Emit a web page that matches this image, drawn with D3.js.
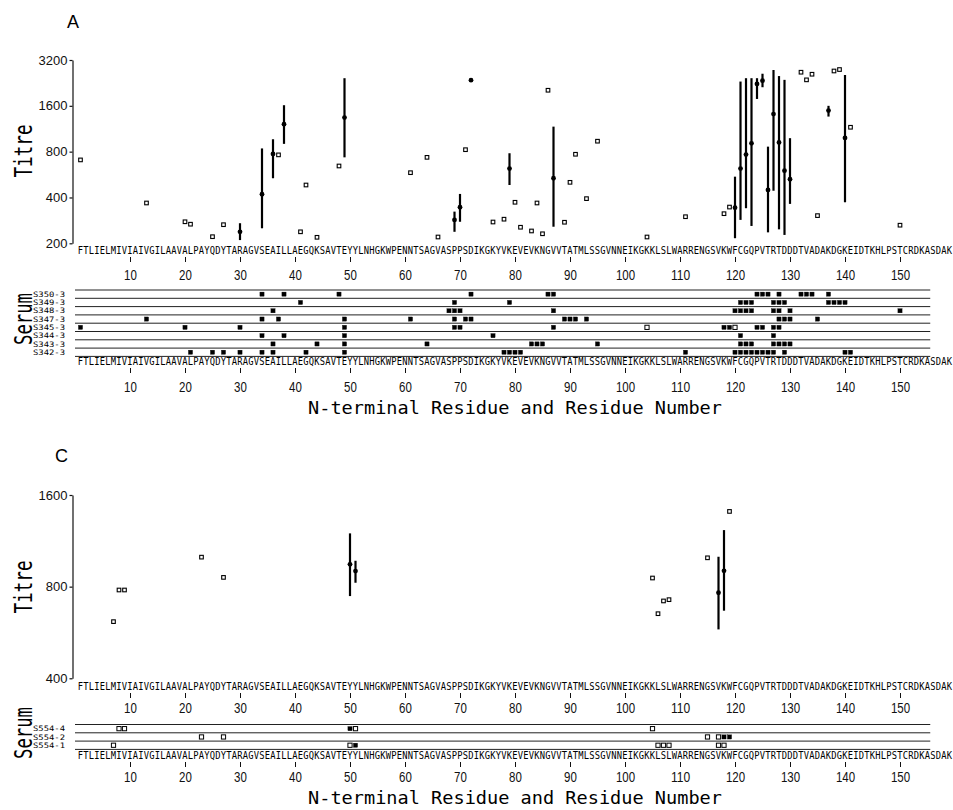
<!DOCTYPE html>
<html>
<head>
<meta charset="utf-8">
<title>Titre by N-terminal residue</title>
<script src="https://cdnjs.cloudflare.com/ajax/libs/d3/7.8.5/d3.min.js"></script>
<style>
	body { margin: 0; background: #fff; }
	svg { display: block; }
</style>
</head>
<body>
<script>

// protein sequence, residues 1..159
var sequence = "FTLIELMIVIAIVGILAAVALPAYQDYTARAGVSEAILLAEGQKSAVTEYYLNHGKWPENNTSAGVASPPSDIKGKYVKEVEVKNGVVTATMLSSGVNNEIKGKKLSLWARRENGSVKWFCGQPVTRTDDDTVADAKDGKEIDTKHLPSTCRDKASDAK";
var residueTicks = [10, 20, 30, 40, 50, 60, 70, 80, 90, 100, 110, 120, 130, 140, 150];

// ---- panel A ----
var titreTicksA = [200, 400, 800, 1600, 3200];
// open squares: [residue, titre]
var singleA = [
	[1, 706], [13, 368], [20, 277], [21, 267], [25, 221], [27, 265], [37, 762], [41, 238],
	[42, 483], [44, 219], [48, 644], [61, 582], [64, 734], [66, 220], [71, 824], [76, 276],
	[78, 288], [80, 372], [81, 255], [83, 241], [84, 368], [85, 231], [86, 2025], [89, 275],
	[90, 503], [91, 769], [93, 393], [95, 937], [104, 220], [111, 299], [118, 313], [119, 346],
	[132, 2660], [133, 2370], [134, 2580], [135, 304], [138, 2710], [139, 2770], [141, 1157], [150, 263]
];
// filled circles: [residue, mean titre, low, high]
var meanA = [
	[30, 238, 210, 271], [34, 420, 251, 840], [36, 772, 535, 965], [38, 1212, 900, 1615],
	[49, 1339, 734, 2430], [69, 285, 238, 323], [70, 345, 277, 422], [72, 2358, 2358, 2358],
	[79, 619, 483, 781], [87, 535, 257, 1168], [120, 343, 216, 548], [121, 619, 285, 2310],
	[122, 765, 340, 2430], [123, 908, 260, 2430], [124, 2230, 1775, 2430], [125, 2340, 2120, 2600],
	[126, 448, 236, 863], [127, 1413, 443, 2750], [128, 920, 247, 2510], [129, 600, 227, 2370],
	[130, 527, 363, 981], [137, 1490, 1360, 1600], [140, 985, 372, 2550]
];
var seraA = ["S350-3", "S349-3", "S348-3", "S347-3", "S345-3", "S344-3", "S343-3", "S342-3"];
var seraFilledA = [
	[34, 38, 48, 72, 86, 87, 124, 125, 126, 128, 132, 133, 134, 137],
	[41, 69, 79, 121, 122, 123, 127, 128, 129, 137, 138, 139, 140],
	[36, 68, 69, 70, 87, 120, 121, 122, 123, 127, 128, 130, 150],
	[13, 34, 37, 49, 61, 69, 71, 72, 89, 90, 91, 93, 128, 129, 130, 135],
	[1, 20, 30, 49, 69, 70, 87, 118, 119, 124, 125, 127, 128],
	[34, 38, 49, 76, 121, 127],
	[36, 44, 49, 64, 83, 84, 85, 95, 121, 122, 123, 127, 128, 129, 130],
	[21, 25, 27, 30, 34, 36, 42, 49, 78, 79, 80, 81, 111, 120, 121, 122, 123, 124, 125, 126, 127, 129, 140, 141]
];
var seraOpenA = [[], [], [], [], [104, 120], [], [], []];

// ---- panel C ----
var titreTicksC = [400, 800, 1600];
var singleC = [
	[7, 614], [8, 780], [9, 780], [23, 1000], [27, 858],
	[105, 854], [106, 652], [107, 718], [108, 725], [115, 995], [119, 1413]
];
var meanC = [
	[50, 947, 745, 1197], [51, 900, 824, 973], [117, 764, 579, 1003], [118, 902, 667, 1227]
];
var seraC = ["S554-4", "S554-2", "S554-1"];
var seraFilledC = [[50], [118, 119], [51]];
var seraOpenC = [[8, 9, 51, 105], [23, 27, 115, 117], [7, 50, 106, 107, 108, 117, 118]];


var W = 953, H = 810;
var MONO = "DejaVu Sans Mono, Liberation Mono, monospace";
var SANS = "Liberation Sans, Arial, sans-serif";

var svg = d3.select("body").append("svg")
	.attr("width", W)
	.attr("height", H);

//residue position shared by both panels
var x = d3.scaleLinear().domain([0, 155]).range([75, 75 + 5.5 * 155]);

function drawPanel(p) {
	var g = svg.append("g");
	var y = d3.scaleLog().base(2).domain([p.ticks[0], p.ticks[p.ticks.length - 1]])
		.range([p.plotBottom, p.plotTop]);

	//panel letter
	g.append("text")
		.attr("x", p.letterX).attr("y", p.letterY)
		.attr("font-family", SANS).attr("font-size", 18)
		.text(p.letter);

	//titre axis
	g.append("g")
		.attr("transform", "translate(72.5,0)")
		.call(d3.axisLeft(y).tickValues(p.ticks).tickFormat(d3.format("d")).tickSize(3).tickSizeOuter(0).tickPadding(2))
		.attr("font-family", SANS).attr("font-size", 13)
		.call(function(a) {
			a.selectAll("text").attr("fill", "#111");
			a.selectAll("line, path").attr("stroke", "#111").attr("stroke-width", 1.2);
		});

	g.append("text")
		.attr("transform", "translate(32," + p.titreMid + ") rotate(-90)")
		.attr("text-anchor", "middle")
		.attr("font-family", MONO).attr("font-size", 24)
		.attr("textLength", 53).attr("lengthAdjust", "spacingAndGlyphs")
		.text("Titre");

	//error bars and means
	g.selectAll("line.err").data(p.mean).enter().append("line")
		.attr("class", "err")
		.attr("x1", function(d) { return x(d[0]); })
		.attr("x2", function(d) { return x(d[0]); })
		.attr("y1", function(d) { return y(d[2]); })
		.attr("y2", function(d) { return y(d[3]); })
		.attr("stroke", "#000").attr("stroke-width", 2.2);

	g.selectAll("circle.mean").data(p.mean).enter().append("circle")
		.attr("class", "mean")
		.attr("cx", function(d) { return x(d[0]); })
		.attr("cy", function(d) { return y(d[1]); })
		.attr("r", 2.4)
		.attr("fill", "#000");

	g.selectAll("rect.single").data(p.single).enter().append("rect")
		.attr("class", "single")
		.attr("x", function(d) { return x(d[0]) - 1.8; })
		.attr("y", function(d) { return y(d[1]) - 1.8; })
		.attr("width", 3.6).attr("height", 3.6)
		.attr("fill", "#fff").attr("stroke", "#000").attr("stroke-width", 1.1);

	//sequence + residue number rows, one letter per residue
	function seqRow(base, tickY, labY) {
		g.append("g").selectAll("text")
			.data(sequence.split(""))
			.enter().append("text")
			.attr("x", function(d, i) { return x(i + 1); })
			.attr("y", base)
			.attr("text-anchor", "middle")
			.attr("font-family", MONO).attr("font-size", 10)
			.attr("textLength", 5.3).attr("lengthAdjust", "spacingAndGlyphs")
			.text(function(d) { return d; });

		g.append("g")
			.attr("transform", "translate(0," + tickY + ")")
			.call(d3.axisBottom(x).tickValues(residueTicks).tickFormat(d3.format("d")).tickSize(5))
			.attr("font-family", SANS).attr("font-size", 14)
			.call(function(a) {
				a.select(".domain").remove();
				a.selectAll("line").attr("stroke", "#111");
				a.selectAll("text")
					.attr("fill", "#111")
					.attr("y", labY - tickY).attr("dy", 0)
					.attr("textLength", function(d) { return String(d).length * 6.4; })
					.attr("lengthAdjust", "spacingAndGlyphs");
			});
	}
	seqRow(p.seq1, p.tick1, p.lab1);

	//serum grid
	var step = 8.3;
	var rowMid = function(i) { return p.grid0 + step * (i + 0.5); };
	g.selectAll("line.grid").data(d3.range(p.sera.length + 1)).enter().append("line")
		.attr("class", "grid")
		.attr("x1", x(0)).attr("x2", x(155.5))
		.attr("y1", function(k) { return p.grid0 + k * step; })
		.attr("y2", function(k) { return p.grid0 + k * step; })
		.attr("stroke", "#222").attr("stroke-width", 1);

	g.selectAll("text.serum").data(p.sera).enter().append("text")
		.attr("class", "serum")
		.attr("x", 65).attr("y", function(d, i) { return rowMid(i) + 2.6; })
		.attr("text-anchor", "end")
		.attr("font-family", MONO).attr("font-size", 7.5)
		.attr("textLength", 32).attr("lengthAdjust", "spacingAndGlyphs")
		.text(function(d) { return d; });

	p.sera.forEach(function(name, i) {
		var marks = p.filled[i].map(function(r) { return { r: r, open: false }; })
			.concat(p.open[i].map(function(r) { return { r: r, open: true }; }));
		g.selectAll("rect.m" + i).data(marks).enter().append("rect")
			.attr("class", "m" + i)
			.attr("x", function(d) { return x(d.r) - 2.1; })
			.attr("y", rowMid(i) - 2.1)
			.attr("width", 4.2).attr("height", 4.2)
			.attr("fill", function(d) { return d.open ? "#fff" : "#000"; })
			.attr("stroke", "#000").attr("stroke-width", function(d) { return d.open ? 1 : 0.3; });
	});

	g.append("text")
		.attr("transform", "translate(32," + p.serumMid + ") rotate(-90)")
		.attr("text-anchor", "middle")
		.attr("font-family", MONO).attr("font-size", 24)
		.attr("textLength", 52).attr("lengthAdjust", "spacingAndGlyphs")
		.text("Serum");

	seqRow(p.seq2, p.tick2, p.lab2);

	g.append("text")
		.attr("x", 308).attr("y", p.title)
		.attr("font-family", MONO).attr("font-size", 17)
		.attr("textLength", 414).attr("lengthAdjust", "spacingAndGlyphs")
		.text("N-terminal Residue and Residue Number");
}

drawPanel({
	letter: "A", letterX: 67, letterY: 28,
	ticks: titreTicksA, plotTop: 60, plotBottom: 243.3, titreMid: 151,
	single: singleA, mean: meanA,
	seq1: 253.5, tick1: 257, lab1: 280,
	sera: seraA, filled: seraFilledA, open: seraOpenA, grid0: 290, serumMid: 319,
	seq2: 365, tick2: 368, lab2: 392,
	title: 414
});

drawPanel({
	letter: "C", letterX: 55, letterY: 462,
	ticks: titreTicksC, plotTop: 495, plotBottom: 678.3, titreMid: 587,
	single: singleC, mean: meanC,
	seq1: 690, tick1: 693, lab1: 713,
	sera: seraC, filled: seraFilledC, open: seraOpenC, grid0: 724.5, serumMid: 733,
	seq2: 758.5, tick2: 762, lab2: 782,
	title: 804
});

</script>
</body>
</html>
